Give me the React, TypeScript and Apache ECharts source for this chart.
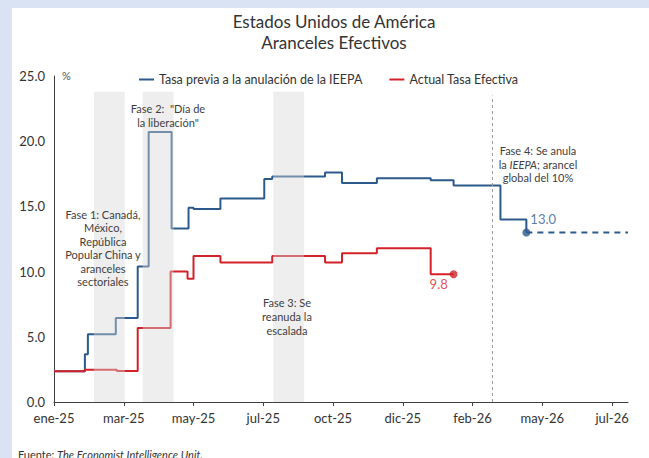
import React, { useEffect, useRef } from "react";
import * as echarts from "echarts";

// ---- data (days since 2025-01-01) ----
const blueDays = [0, 31, 34, 62, 84, 95, 118, 135, 140, 167, 211, 219, 272, 289, 324, 378, 401, 448, 474];
const blueValues = [2.35, 3.67, 5.2, 6.44, 10.4, 20.7, 13.3, 14.9, 14.8, 15.6, 17.1, 17.3, 17.6, 16.8, 17.15, 17.0, 16.6, 14.0, 13.0];
const projDays = [474, 576];
const projValues = [13.0, 13.0];
const redDays = [0, 31, 63, 84, 117, 134, 140, 167, 219, 272, 289, 324, 378, 401];
const redValues = [2.35, 2.48, 2.38, 5.67, 10.0, 9.45, 11.2, 10.7, 11.2, 10.7, 11.4, 11.8, 9.8, 9.8];
const bandStarts = [40, 89, 220];
const bandEnds = [71, 120, 251];
const bandTop = 23.8;
const phase4Day = 440;
const phase4Top = 23.5;
const tickDays = [0, 70, 140, 210, 280, 350, 420, 490, 560];
const tickLabels = ["ene-25", "mar-25", "may-25", "jul-25", "oct-25", "dic-25", "feb-26", "may-26", "jul-26"];
const seriesNames = ["Tasa previa a la anulación de la IEEPA", "Actual Tasa Efectiva"];

const BLUE = "#2c5a8c";
const RED = "#d3222a";
const FONT = "Lato";

export default function App() {
  const ref = useRef<HTMLDivElement>(null);
  useEffect(() => {
    if (!ref.current) return;
    const chart = echarts.init(ref.current, null, { renderer: "svg" });
    const zip = (a: number[], b: number[]) => a.map((d, i) => [d, b[i]]);
    const blueLast = [blueDays[blueDays.length - 1], blueValues[blueValues.length - 1]];
    const redLast = [redDays[redDays.length - 1], redValues[redValues.length - 1]];
    const annot = (text: string, x: number, y: number, lh: number, extra: any = {}) => ({
      type: "text",
      z: 50,
      style: {
        text,
        x,
        y,
        align: "center",
        verticalAlign: "middle",
        fontFamily: FONT,
        fontSize: 11,
        lineHeight: lh,
        fill: "#404040",
        ...extra,
      },
    });
    chart.setOption({
      animation: false,
      backgroundColor: "#ffffff",
      textStyle: { fontFamily: FONT },
      grid: { left: 54, right: 21, top: 76, bottom: 56, containLabel: false },
      legend: {
        left: 134,
        top: 68,
        itemWidth: 15,
        itemHeight: 2,
        itemGap: 27,
        icon: "rect",
        data: seriesNames,
        textStyle: { fontFamily: FONT, fontSize: 12.5, color: "#333" },
        selectedMode: false,
      },
      xAxis: {
        type: "value",
        min: 0,
        max: 576,
        interval: 70,
        splitLine: { show: false },
        axisLine: { lineStyle: { color: "#404040", width: 1 } },
        axisTick: { show: true, length: 4, inside: false, customValues: tickDays, lineStyle: { color: "#404040" } },
        axisLabel: {
          customValues: tickDays,
          margin: 9,
          fontFamily: FONT,
          fontSize: 13,
          color: "#333",
          formatter: (v: number) => {
            const i = tickDays.indexOf(Math.round(v));
            return i >= 0 ? tickLabels[i] : "";
          },
        },
      },
      yAxis: {
        type: "value",
        min: 0,
        max: 25,
        interval: 5,
        splitLine: { show: false },
        axisLine: { show: true, lineStyle: { color: "#404040", width: 1 } },
        axisTick: { show: false },
        axisLabel: {
          margin: 9,
          fontFamily: FONT,
          fontSize: 13,
          color: "#333",
          formatter: (v: number) => v.toFixed(1),
        },
      },
      series: [
        {
          name: seriesNames[0],
          type: "line",
          step: "end",
          z: 2,
          symbol: "none",
          data: zip(blueDays, blueValues),
          lineStyle: { color: BLUE, width: 2 },
          itemStyle: { color: BLUE },
        },
        {
          name: "proj",
          type: "line",
          z: 2,
          symbol: "none",
          data: zip(projDays, projValues),
          lineStyle: { color: BLUE, width: 2, type: [6, 5] },
        },
        {
          name: seriesNames[1],
          type: "line",
          step: "end",
          z: 2,
          symbol: "none",
          data: zip(redDays, redValues),
          lineStyle: { color: RED, width: 2 },
          itemStyle: { color: RED },
        },
        {
          name: "bands",
          type: "line",
          z: 4,
          data: [],
          silent: true,
          markArea: {
            silent: true,
            z: 10,
            itemStyle: { color: "rgba(215,215,215,0.42)" },
            data: bandStarts.map((s, i) => [{ coord: [s, 0] }, { coord: [bandEnds[i], bandTop] }]),
          },
          markLine: {
            silent: true,
            symbol: ["none", "none"],
            label: { show: false },
            lineStyle: { color: "#9a9a9a", width: 1, type: [3, 3] },
            data: [[{ coord: [phase4Day, 0] }, { coord: [phase4Day, phase4Top] }]],
          },
        },
        {
          name: "endBlue",
          type: "scatter",
          z: 6,
          symbolSize: 8,
          itemStyle: { color: BLUE },
          data: [blueLast],
          label: {
            show: true,
            position: [8, -16],
            formatter: (p: any) => p.value[1].toFixed(1),
            color: BLUE,
            fontFamily: FONT,
            fontSize: 13,
          },
        },
        {
          name: "endRed",
          type: "scatter",
          z: 6,
          symbolSize: 8,
          itemStyle: { color: RED },
          data: [redLast],
          label: {
            show: true,
            position: [-20, 7],
            formatter: (p: any) => p.value[1].toFixed(1),
            color: RED,
            fontFamily: FONT,
            fontSize: 13,
          },
        },
      ],
      graphic: [
        { type: "rect", z: 100, shape: { x: 0, y: 0, width: 649, height: 8 }, style: { fill: "#dae3f3" } },
        { type: "rect", z: 100, shape: { x: 0, y: 0, width: 12, height: 458 }, style: { fill: "#dae3f3" } },
        {
          type: "text",
          z: 50,
          style: {
            text: "Estados Unidos de América\nAranceles Efectivos",
            x: 334,
            y: 32,
            align: "center",
            verticalAlign: "middle",
            fontFamily: FONT,
            fontSize: 17,
            lineHeight: 21.5,
            fill: "#333",
          },
        },
        {
          type: "text",
          z: 50,
          style: { text: "%", x: 62, y: 75, verticalAlign: "middle", fontFamily: FONT, fontSize: 11, fill: "#555" },
        },
        annot('Fase 2:  "Día de\nla liberación"', 168, 115, 14),
        annot("Fase 1: Canadá,\nMéxico,\nRepública\nPopular China y\naranceles\nsectoriales", 103, 248, 13.4),
        annot("Fase 3: Se\nreanuda la\nescalada", 287, 316, 14),
        annot("Fase 4: Se anula\nla {i|IEEPA}; arancel\nglobal del 10%", 538, 164, 13.7, {
          rich: { i: { fontStyle: "italic", fontFamily: FONT, fontSize: 11, fill: "#404040" } },
        }),
        {
          type: "text",
          z: 50,
          style: {
            text: "Fuente: {i|The Economist Intelligence Unit.}",
            x: 18,
            y: 449,
            verticalAlign: "top",
            fontFamily: FONT,
            fontSize: 11,
            fill: "#333",
            rich: { i: { fontStyle: "italic", fontFamily: FONT, fontSize: 11, fill: "#333" } },
          },
        },
      ],
    });
    return () => chart.dispose();
  }, []);
  return (
    <div
      ref={ref}
      style={{ position: "fixed", left: 0, top: 0, width: 649, height: 458, overflow: "hidden" }}
    />
  );
}
